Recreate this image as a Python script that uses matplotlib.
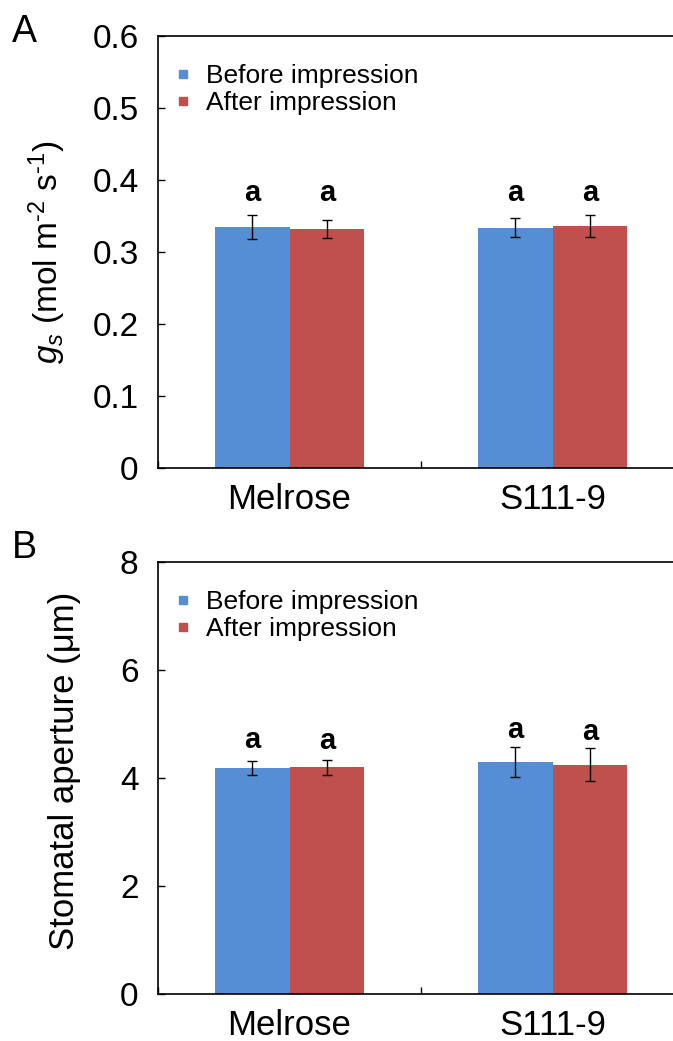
import matplotlib
matplotlib.use("Agg")
import matplotlib.pyplot as plt
from matplotlib.lines import Line2D
import numpy as np

plt.rcParams['font.family'] = ['Liberation Sans', 'DejaVu Sans']
plt.rcParams['mathtext.fontset'] = 'custom'
plt.rcParams['mathtext.rm'] = 'Liberation Sans'
plt.rcParams['mathtext.it'] = 'Liberation Sans:italic'
plt.rcParams['mathtext.bf'] = 'Liberation Sans:bold'

# data
cultivars = ["Melrose", "S111-9"]
series = ["Before impression", "After impression"]
colors = ["#558ED5", "#C0504D"]

# panel A: stomatal conductance
gs_before = [0.335, 0.334]
gs_before_err = [0.017, 0.0135]
gs_after = [0.332, 0.336]
gs_after_err = [0.0125, 0.0155]
gs_letters = ["a", "a", "a", "a"]
gs_letter_y = [0.382, 0.382, 0.382, 0.382]

# panel B: stomatal aperture
ap_before = [4.19, 4.30]
ap_before_err = [0.13, 0.28]
ap_after = [4.20, 4.25]
ap_after_err = [0.14, 0.31]
ap_letters = ["a", "a", "a", "a"]
ap_letter_y = [4.70, 4.69, 4.89, 4.85]

W, H = 673, 1041
fig = plt.figure(figsize=(W / 100, H / 100), dpi=100)

x = np.arange(len(cultivars)) + 0.5
bw = 0.285


def panel(ax, before, b_err, after, a_err, letters, ly, ymax, ystep, fmt):
    ax.bar(x - bw / 2, before, bw, color=colors[0], zorder=2)
    ax.bar(x + bw / 2, after, bw, color=colors[1], zorder=2)
    ax.errorbar(x - bw / 2, before, yerr=b_err, fmt='none', ecolor='black',
                elinewidth=1, capsize=3.5, capthick=1, zorder=3)
    ax.errorbar(x + bw / 2, after, yerr=a_err, fmt='none', ecolor='black',
                elinewidth=1, capsize=3.5, capthick=1, zorder=3)
    pos = [x[0] - bw / 2, x[0] + bw / 2, x[1] - bw / 2, x[1] + bw / 2]
    for px, py, t in zip(pos, ly, letters):
        ax.text(px, py, t, ha='center', va='center', fontsize=21, fontweight='bold')
    ax.set_xlim(0, 2)
    ax.set_ylim(0, ymax)
    ticks = np.arange(0, ymax + ystep / 2, ystep)
    ax.set_yticks(ticks)
    ax.set_yticklabels([fmt(v) for v in ticks])
    ax.set_xticks([0, 1, 2])
    ax.set_xticklabels([])
    ax.set_xticks(x, minor=True)
    ax.set_xticklabels(cultivars, minor=True, fontsize=25)
    ax.tick_params(axis='x', which='minor', length=0, pad=11)
    ax.tick_params(axis='x', which='major', direction='in', length=5, width=1)
    ax.tick_params(axis='y', direction='in', length=5, width=1, labelsize=24, pad=14)
    ax.spines['right'].set_visible(False)
    for s in ['left', 'top', 'bottom']:
        ax.spines[s].set_linewidth(1.2)
    handles = [Line2D([], [], marker='s', linestyle='none', markersize=6,
                      markerfacecolor=c, markeredgecolor=c) for c in colors]
    ax.legend(handles, series, loc='upper left', bbox_to_anchor=(0.033, 0.935),
              frameon=False, fontsize=19, handlelength=0.6, handletextpad=0.55,
              labelspacing=0.12, borderpad=0, borderaxespad=0)


axA = fig.add_axes([158 / W, (H - 468) / H, 526 / W, 432 / H])
panel(axA, gs_before, gs_before_err, gs_after, gs_after_err, gs_letters,
      gs_letter_y, 0.6, 0.1, lambda v: "0" if v < 1e-9 else f"{v:.1f}")
axB = fig.add_axes([158 / W, (H - 994) / H, 526 / W, 432 / H])
panel(axB, ap_before, ap_before_err, ap_after, ap_after_err, ap_letters,
      ap_letter_y, 8, 2, lambda v: f"{v:.0f}")

fig.text(47 / W, 1 - 252 / H,
         r'$\mathit{g}_{s}$ (mol m$^{\text{-2}}$ s$^{\text{-1}}$)',
         rotation=90, ha='center', va='center', fontsize=24)
fig.text(65 / W, 1 - 771 / H, "Stomatal aperture (\u03bcm)",
         rotation=90, ha='center', va='center', fontsize=25)

fig.text(12 / W, 1 - 14 / H, "A", ha='left', va='top', fontsize=27)
fig.text(12 / W, 1 - 530 / H, "B", ha='left', va='top', fontsize=27)

fig.savefig("out.png", dpi=100)
